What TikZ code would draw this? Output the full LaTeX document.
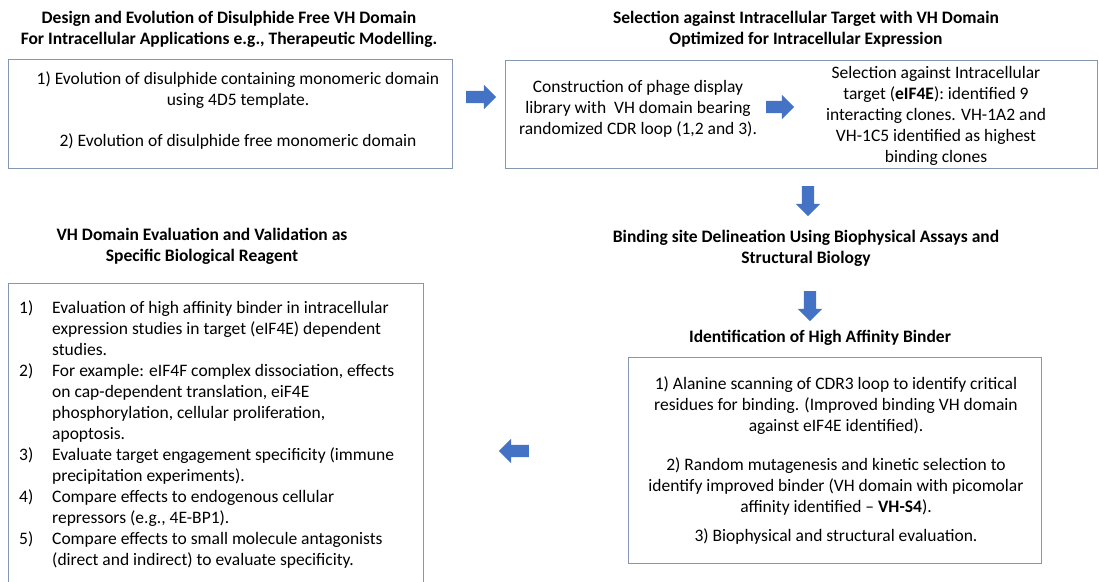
\documentclass[tikz,border=0pt]{standalone}
\usepackage{fontspec}
\setmainfont{Carlito}
\usetikzlibrary{shapes.arrows}
\definecolor{arrowblue}{HTML}{4472C4}
\definecolor{boxline}{HTML}{8496B0}
\newcommand\diagfont{\fontsize{17.5}{21}\selectfont}
\tikzset{
  heading/.style={font=\diagfont\bfseries, align=center, inner sep=0pt},
  body/.style={font=\diagfont, align=center, inner sep=0pt},
  panel/.style={draw=boxline, line width=0.9pt, inner sep=0pt, anchor=north west},
  blockarrow/.style={single arrow, fill=arrowblue, draw=none, inner xsep=0pt, inner ysep=6pt,
    minimum height=30pt, single arrow head extend=6pt},
}
\begin{document}
\begin{tikzpicture}[x=1pt,y=-1pt]
  \useasboundingbox (0,0) rectangle (1099,581);

  % design of the domain
  \node[heading] (designtitle) at (229,29) {Design and Evolution of Disulphide Free VH Domain\\For Intracellular Applications e.g., Therapeutic Modelling.};
  \node[panel, minimum width=444pt, minimum height=109pt] (designbox) at (8,59) {};
  \node[body] (designtext) at (238,111) {1) Evolution of disulphide containing monomeric domain\\using 4D5 template.\\[20pt]2) Evolution of disulphide free monomeric domain};

  \node[blockarrow] (arrowA) at (478,97) {};

  % selection against the target
  \node[heading] (selecttitle) at (806,29) {Selection against Intracellular Target with VH Domain\\Optimized for Intracellular Expression};
  \node[panel, minimum width=592pt, minimum height=108pt] (selectbox) at (505,60) {};
  \node[body] (phagetext) at (638,109) {Construction of phage display\\library with \ VH domain bearing\\randomized CDR loop (1,2 and 3).};
  \node[blockarrow, minimum height=28pt] (arrowB) at (777,107) {};
  \node[body] (eiftext) at (936,116) {Selection against Intracellular\\target (\textbf{eIF4E}): identified 9\\interacting clones. VH-1A2 and\\VH-1C5 identified as highest\\binding clones};

  \node[blockarrow, rotate=-90] (arrowC) at (808,198) {};

  % binding site
  \node[heading] (bindtitle) at (806,248) {Binding site Delineation Using Biophysical Assays and\\Structural Biology};

  \node[blockarrow, rotate=-90] (arrowD) at (810,303) {};

  % high affinity binder
  \node[heading] (hightitle) at (820,338) {Identification of High Affinity Binder};
  \node[panel, minimum width=413pt, minimum height=206pt] (highbox) at (628,357) {};
  \node[body] (hightext) at (836,461) {1) Alanine scanning of CDR3 loop to identify critical\\residues for binding. (Improved binding VH domain\\against eIF4E identified).\\[18pt]2) Random mutagenesis and kinetic selection to\\identify improved binder (VH domain with picomolar\\affinity identified -- \textbf{VH-S4}).\\[8pt]3) Biophysical and structural evaluation.};

  \node[blockarrow, rotate=180] (arrowE) at (517,451) {};

  % evaluation and validation
  \node[heading] (evaltitle) at (202,246) {VH Domain Evaluation and Validation as\\Specific Biological Reagent};
  \node[panel, minimum width=415pt, minimum height=320pt] (evalbox) at (8,283) {};
  \node[body, align=left, anchor=north west] (evaltext) at (19,299) {%
    \begin{tabular}{@{}p{33pt}@{}l@{}}
      1) & Evaluation of high affinity binder in intracellular\\
         & expression studies in target (eIF4E) dependent\\
         & studies.\\
      2) & For example: eIF4F complex dissociation, effects\\
         & on cap-dependent translation, eiF4E\\
         & phosphorylation, cellular proliferation,\\
         & apoptosis.\\
      3) & Evaluate target engagement specificity (immune\\
         & precipitation experiments).\\
      4) & Compare effects to endogenous cellular\\
         & repressors (e.g., 4E-BP1).\\
      5) & Compare effects to small molecule antagonists\\
         & (direct and indirect) to evaluate specificity.
    \end{tabular}};
\end{tikzpicture}
\end{document}
